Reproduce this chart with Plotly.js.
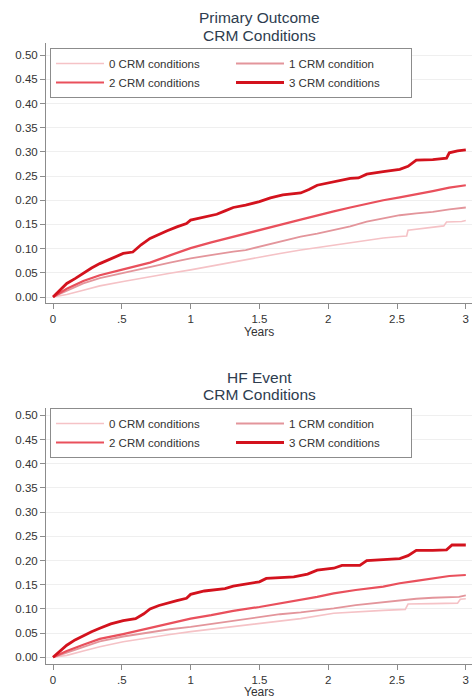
<!DOCTYPE html>
<html><head><meta charset="utf-8">
<script src="https://cdn.plot.ly/plotly-3.0.1.min.js"></script>
<style>html,body{margin:0;padding:0;background:#fff;}#chart{width:472px;height:700px;}</style>
</head><body><div id="chart"></div>
<script>
// ---- data ----
const seriesNames = ["0 CRM conditions", "1 CRM condition", "2 CRM conditions", "3 CRM conditions"];
const panelTitles = [["Primary Outcome", "CRM Conditions"], ["HF Event", "CRM Conditions"]];
const xTickVals = [0, 0.5, 1, 1.5, 2, 2.5, 3];
const xTickText = ["0", ".5", "1", "1.5", "2", "2.5", "3"];
const xAxisLabel = "Years";

// Primary outcome
const p0_t = [0,0.1,0.22,0.34,0.51,0.7,0.85,1.0,1.15,1.31,1.5,1.65,1.8,1.92,2.04,2.16,2.28,2.4,2.52,2.57,2.58,2.7,2.76,2.84,2.86,2.97,3.0];
const p0_v = [0,0.005,0.014,0.023,0.032,0.042,0.049,0.056,0.064,0.072,0.083,0.09,0.097,0.102,0.107,0.112,0.118,0.122,0.125,0.126,0.138,0.142,0.145,0.147,0.155,0.156,0.158];
const p1_t = [0,0.1,0.22,0.34,0.51,0.6,0.705,0.85,1.0,1.15,1.31,1.4,1.5,1.65,1.8,1.92,2.04,2.16,2.28,2.4,2.52,2.64,2.76,2.88,3.0];
const p1_v = [0,0.013,0.028,0.039,0.05,0.056,0.063,0.071,0.08,0.087,0.094,0.097,0.104,0.114,0.125,0.131,0.138,0.146,0.156,0.162,0.169,0.173,0.176,0.181,0.185];
const p2_t = [0,0.1,0.22,0.34,0.51,0.6,0.705,0.85,1.0,1.15,1.31,1.5,1.65,1.8,1.92,2.04,2.16,2.28,2.4,2.52,2.64,2.76,2.88,3.0];
const p2_v = [0,0.017,0.033,0.045,0.057,0.063,0.071,0.086,0.101,0.113,0.125,0.138,0.149,0.16,0.169,0.177,0.185,0.193,0.2,0.206,0.212,0.219,0.226,0.231];
const p3_t = [0,0.05,0.1,0.16,0.22,0.28,0.34,0.42,0.51,0.58,0.64,0.705,0.77,0.83,0.9,0.97,1.0,1.1,1.19,1.25,1.31,1.4,1.5,1.58,1.67,1.8,1.86,1.92,2.04,2.16,2.22,2.28,2.4,2.52,2.58,2.64,2.76,2.86,2.88,2.94,3.0];
const p3_v = [0,0.015,0.028,0.038,0.049,0.06,0.069,0.079,0.09,0.093,0.108,0.121,0.13,0.137,0.145,0.152,0.159,0.166,0.171,0.178,0.185,0.19,0.197,0.205,0.211,0.215,0.222,0.231,0.238,0.245,0.246,0.254,0.259,0.264,0.27,0.283,0.284,0.287,0.298,0.302,0.304];

// HF event
const h0_t = [0,0.1,0.22,0.34,0.51,0.7,0.85,1.0,1.15,1.31,1.5,1.65,1.8,2.04,2.2,2.4,2.56,2.58,2.76,2.94,2.96,3.0];
const h0_v = [0,0.004,0.013,0.022,0.032,0.041,0.047,0.053,0.058,0.063,0.07,0.075,0.08,0.091,0.094,0.097,0.099,0.11,0.111,0.112,0.12,0.121];
const h1_t = [0,0.1,0.22,0.34,0.51,0.7,0.85,1.0,1.15,1.31,1.5,1.65,1.8,2.04,2.2,2.4,2.52,2.64,2.76,2.88,2.95,3.0];
const h1_v = [0,0.01,0.022,0.033,0.043,0.052,0.058,0.063,0.069,0.075,0.084,0.089,0.093,0.101,0.108,0.114,0.118,0.121,0.123,0.125,0.125,0.128];
const h2_t = [0,0.1,0.22,0.34,0.51,0.7,0.85,1.0,1.15,1.31,1.5,1.65,1.8,1.92,2.04,2.2,2.4,2.52,2.64,2.76,2.88,3.0];
const h2_v = [0,0.013,0.026,0.038,0.048,0.06,0.071,0.08,0.087,0.096,0.104,0.111,0.118,0.125,0.132,0.139,0.146,0.153,0.158,0.163,0.168,0.17];
const h3_t = [0,0.05,0.1,0.16,0.22,0.28,0.34,0.42,0.51,0.6,0.66,0.705,0.77,0.83,0.9,0.97,1.0,1.1,1.19,1.25,1.31,1.4,1.5,1.55,1.65,1.75,1.85,1.92,2.04,2.1,2.23,2.28,2.4,2.52,2.58,2.64,2.76,2.86,2.9,3.0];
const h3_v = [0,0.013,0.025,0.036,0.045,0.053,0.06,0.069,0.076,0.08,0.09,0.1,0.107,0.111,0.117,0.122,0.13,0.137,0.14,0.142,0.147,0.151,0.156,0.163,0.164,0.166,0.172,0.18,0.184,0.19,0.19,0.2,0.202,0.204,0.21,0.221,0.221,0.222,0.232,0.232];

// ---- style ----
const colors = ["#f5c2c6", "#e3959b", "#e9505c", "#d3121d"];
const widths = [1.6, 1.8, 2.2, 2.8];
const txt = "#333333";
const axisCol = "#8c8c8c";
const fam = "Liberation Sans, Arial, sans-serif";

const panels = [
  {t: [p0_t, p1_t, p2_t, p3_t], v: [p0_v, p1_v, p2_v, p3_v], xa: "x", ya: "y", leg: "legend"},
  {t: [h0_t, h1_t, h2_t, h3_t], v: [h0_v, h1_v, h2_v, h3_v], xa: "x2", ya: "y2", leg: "legend2"}
];
const traces = [];
panels.forEach(p => {
  for (let i = 0; i < 4; i++) {
    traces.push({
      x: p.t[i], y: p.v[i], type: "scatter", mode: "lines",
      name: seriesNames[i], xaxis: p.xa, yaxis: p.ya, legend: p.leg,
      line: {color: colors[i], width: widths[i], shape: "linear"},
      hoverinfo: "skip"
    });
  }
});

function xax(anchor) {
  return {domain: [46/472, 1], range: [-0.051, 3.045], anchor: anchor,
    tickvals: xTickVals, ticktext: xTickText, showline: true, linecolor: axisCol, linewidth: 1,
    ticks: "outside", ticklen: 5, tickcolor: axisCol, showgrid: false, zeroline: false,
    tickfont: {family: fam, size: 11.5, color: txt}, fixedrange: true};
}
function yax(anchor, domain, range) {
  return {domain: domain, range: range, anchor: anchor,
    tickvals: [0,0.05,0.1,0.15,0.2,0.25,0.3,0.35,0.4,0.45,0.5], tickformat: ".2f",
    showline: true, linecolor: axisCol, linewidth: 1, ticks: "outside", ticklen: 5, tickcolor: axisCol,
    showgrid: true, gridcolor: "#efefef", gridwidth: 1, zeroline: false,
    tickfont: {family: fam, size: 11.5, color: txt}, fixedrange: true};
}
function legend(y) {
  return {x: 50/472, y: y, xanchor: "left", yanchor: "top", orientation: "h",
    entrywidth: 117, entrywidthmode: "pixels", bgcolor: "#ffffff", bordercolor: "#8c8c8c", borderwidth: 1,
    font: {family: fam, size: 11.5, color: txt}, traceorder: "normal", itemwidth: 48};
}
const titleFont = {family: fam, size: 15.5, color: "#2e3d4f"};
const labFont = {family: fam, size: 12, color: txt};
function ann(text, ypx, font) {
  return {text: text, xref: "paper", yref: "paper", x: 259/472, y: 1 - ypx/700, xanchor: "center", yanchor: "middle", showarrow: false, font: font};
}

const layout = {
  width: 472, height: 700, margin: {l: 0, r: 0, t: 0, b: 0},
  paper_bgcolor: "#ffffff", plot_bgcolor: "#ffffff", showlegend: true,
  xaxis: xax("y"), yaxis: yax("x", [(700-303)/700, (700-43)/700], [-0.0124, 0.525]),
  xaxis2: xax("y2"), yaxis2: yax("x2", [(700-664)/700, (700-408)/700], [-0.0138, 0.515]),
  legend: legend(1 - 48/700), legend2: legend(1 - 408/700),
  annotations: [
    ann(panelTitles[0][0], 17.5, titleFont), ann(panelTitles[0][1], 35, titleFont),
    ann(panelTitles[1][0], 377, titleFont), ann(panelTitles[1][1], 394.5, titleFont),
    ann(xAxisLabel, 332, labFont), ann(xAxisLabel, 692, labFont)
  ]
};
Plotly.newPlot("chart", traces, layout, {staticPlot: true, displayModeBar: false});
</script>
</body></html>
